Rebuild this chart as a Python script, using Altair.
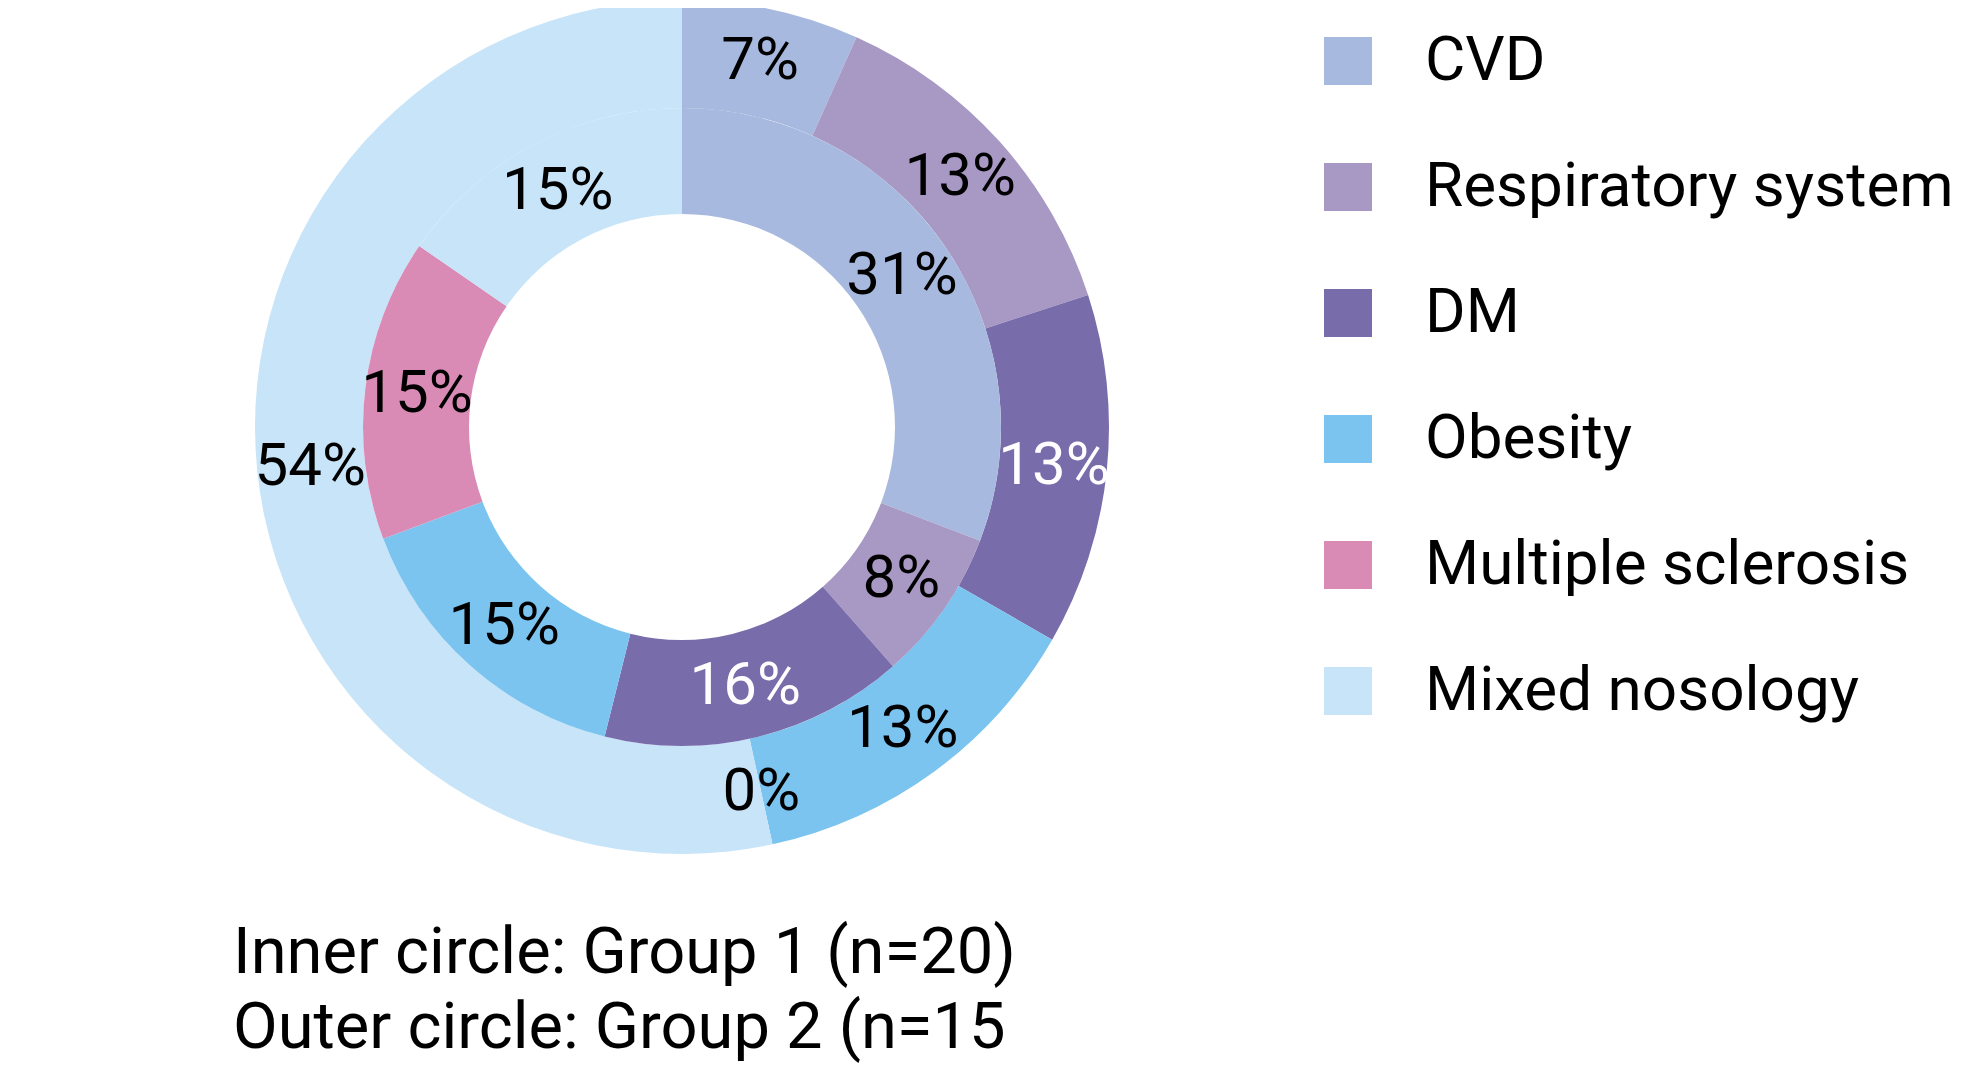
import altair as alt
import pandas as pd

categories = ["CVD", "Respiratory system", "DM", "Obesity", "Multiple sclerosis", "Mixed nosology"]
colors = ["#A7B9DF", "#A898C4", "#796CAB", "#7BC4F0", "#D98BB5", "#C7E4F8"]
# arc shares as drawn (percent of the ring)
inner_values = [30.8, 7.7, 15.4, 15.4, 15.3, 15.4]   # Group 1 (n=20)
outer_values = [6.7, 13.3, 13.3, 13.3, 0.0, 53.4]    # Group 2 (n=15)
# percentage labels as printed
inner_labels = ["31%", "8%", "16%", "15%", "15%", "15%"]
outer_labels = ["7%", "13%", "13%", "13%", "0%", "54%"]
caption_lines = ["Inner circle: Group 1 (n=20)", "Outer circle: Group 2 (n=15"]

rows = []
for i, c in enumerate(categories):
    rows.append({"ring": "inner", "category": c, "idx": i, "value": inner_values[i], "label": inner_labels[i]})
    rows.append({"ring": "outer", "category": c, "idx": i, "value": outer_values[i], "label": outer_labels[i]})
df = pd.DataFrame(rows)

FONT = "Roboto"
CX, CY = 674, 419
W, H = 2 * CX, 2 * CY

color_enc = alt.Color(
    "category:N",
    scale=alt.Scale(domain=categories, range=colors),
    legend=alt.Legend(
        orient="none", legendX=1309, legendY=22, title=None,
        symbolType="square", symbolSize=2304, symbolStrokeWidth=0,
        labelFont=FONT, labelFontSize=62, labelColor="black",
        labelOffset=46, labelLimit=1000, rowPadding=64, padding=0,
    ),
)

base = alt.Chart(df)
theta = alt.Theta("value:Q", stack=True, scale=alt.Scale(domain=[0, 100]))
order = alt.Order("idx:Q", sort="ascending")
txt_color = alt.condition(alt.datum.category == "DM", alt.value("white"), alt.value("black"))

outer = base.transform_filter(alt.datum.ring == "outer").mark_arc(
    radius=427, radius2=319, stroke=None
).encode(theta=theta, color=color_enc, order=order)

inner = base.transform_filter(alt.datum.ring == "inner").mark_arc(
    radius=319, radius2=213, stroke=None
).encode(theta=theta, color=color_enc, order=order)

outer_txt = base.transform_filter(alt.datum.ring == "outer").mark_text(
    radius=374, font=FONT, fontSize=60, align="center", baseline="middle"
).encode(theta=theta, order=order, text="label:N", color=txt_color)

inner_txt = base.transform_filter(alt.datum.ring == "inner").mark_text(
    radius=267, font=FONT, fontSize=60, align="center", baseline="middle"
).encode(theta=theta, order=order, text="label:N", color=txt_color)

cap1 = alt.Chart(pd.DataFrame({"t": [caption_lines[0]]})).mark_text(
    font=FONT, fontSize=65, align="left", baseline="alphabetic", color="black"
).encode(text="t:N", x=alt.value(225), y=alt.value(965))
cap2 = alt.Chart(pd.DataFrame({"t": [caption_lines[1]]})).mark_text(
    font=FONT, fontSize=65, align="left", baseline="alphabetic", color="black"
).encode(text="t:N", x=alt.value(225), y=alt.value(1040))

chart = alt.layer(outer, inner, outer_txt, inner_txt, cap1, cap2).properties(
    width=W, height=H,
    autosize=alt.AutoSizeParams(type="none"),
    padding={"left": 0, "top": 0, "right": 1954 - W, "bottom": 1060 - H},
).configure_view(stroke=None)

chart.save("out.html", embed_options={"renderer": "svg", "actions": False})
